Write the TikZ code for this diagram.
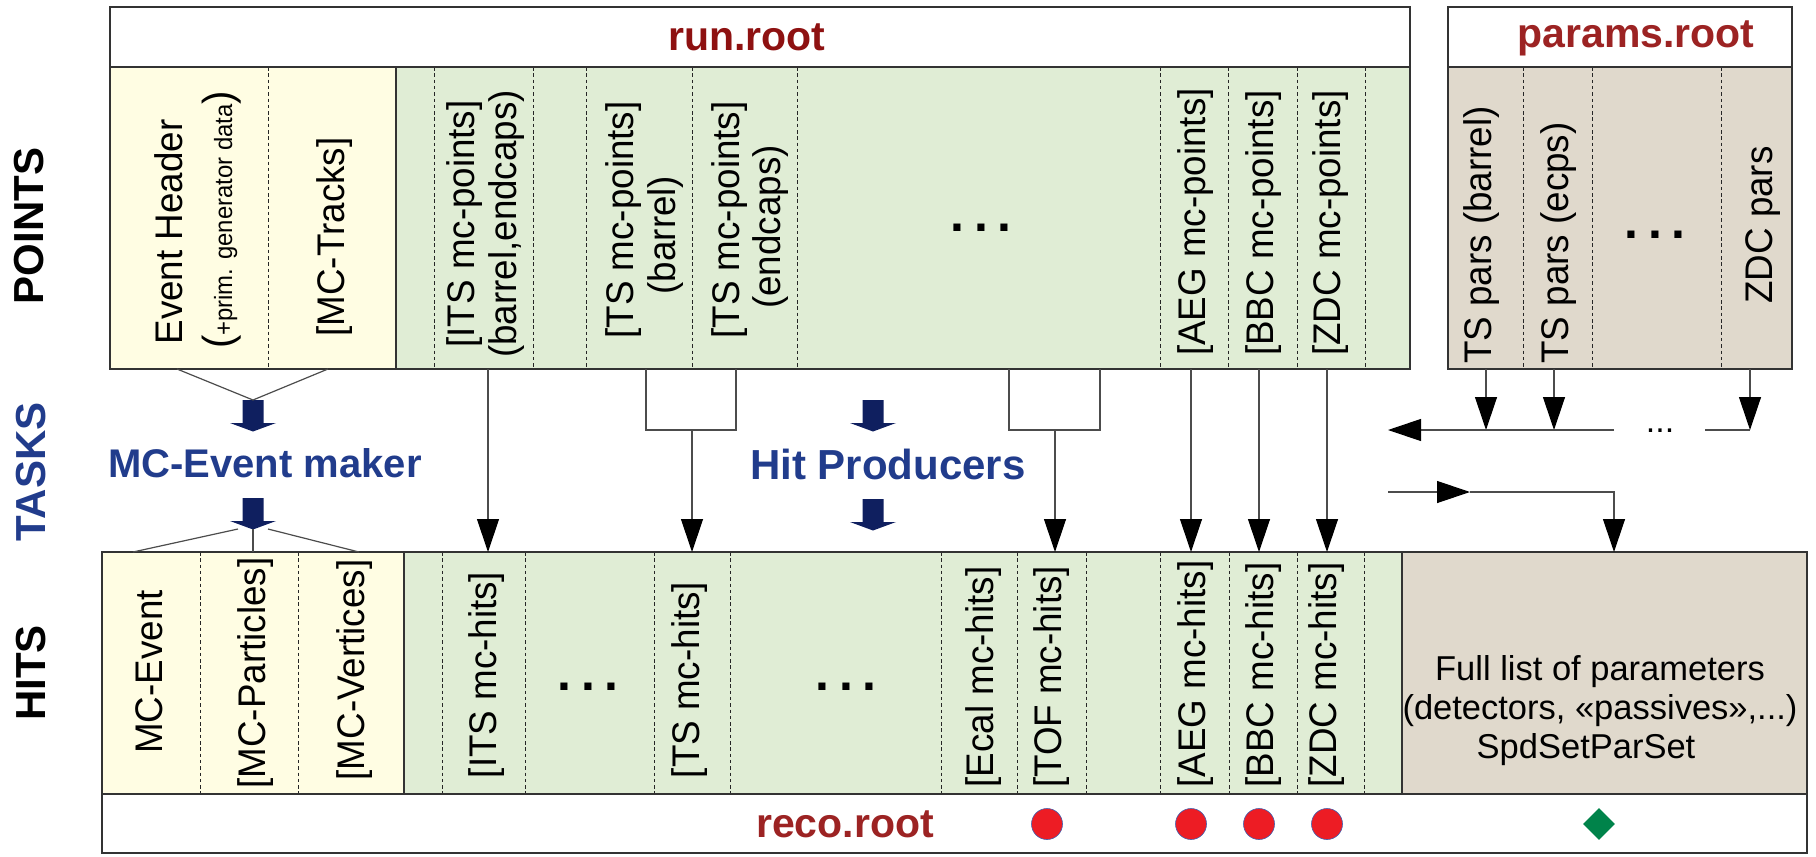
\documentclass[tikz,border=0pt]{standalone}
\usepackage{fontspec}
\setmainfont{Liberation Sans}
\usetikzlibrary{arrows.meta,shapes.geometric}
\definecolor{yel}{HTML}{FFFDE3}
\definecolor{grn}{HTML}{E0EDD5}
\definecolor{parbg}{HTML}{E0D9CC}
\definecolor{rootred}{HTML}{8E1111}
\definecolor{rootredb}{HTML}{9C2323}
\definecolor{taskblue}{HTML}{213C8C}
\definecolor{navyc}{HTML}{0F1F5F}
\definecolor{dotred}{HTML}{ED1C24}
\definecolor{dotblue}{HTML}{4060B0}
\definecolor{diagreen}{HTML}{00834A}
\newcommand{\vtx}[1]{\scalebox{0.955}[1]{#1}}
\tikzset{navyarr/.pic={\fill[navyc] (-10.5,0) -- (10.5,0) -- (10.5,23) -- (23,23) -- (0,31.5) -- (-23,23) -- (-10.5,23) -- cycle;}}
\begin{document}
\begin{tikzpicture}[x=1pt,y=-1pt,
  frame/.style={draw=black!80, line width=1.4pt},
  sepl/.style={draw=black!85, line width=0.9pt, dash pattern=on 3.5pt off 2.8pt},
  vt/.style={rotate=90, anchor=base, inner sep=0pt, font=\fontsize{38.5}{42}\selectfont},
  side/.style={rotate=90, anchor=base, inner sep=0pt, font=\fontsize{42}{46}\selectfont\bfseries},
  rootname/.style={inner sep=0pt, font=\fontsize{41}{46}\selectfont\bfseries},
  taskname/.style={inner sep=0pt, text=taskblue, font=\fontsize{40}{46}\selectfont\bfseries},
  conn/.style={draw=black!70, line width=1.2pt},
  arr/.style={conn, -{Triangle[length=33pt,width=22pt,color=black]}},
  dots/.style={inner sep=0pt, font=\fontsize{50}{50}\selectfont\bfseries},
  reddot/.style={circle, fill=dotred, draw=dotblue, line width=0.6pt, minimum size=31pt, inner sep=0pt},
]
\useasboundingbox (0,0) rectangle (1816,857);

% ---------- run.root ----------
\fill[white] (110,7) rectangle (1410,67);
\fill[yel] (110,67) rectangle (396,369);
\fill[grn] (396,67) rectangle (1410,369);
\foreach \x in {268,434,533,586,692,797,1160,1228,1297,1365} \draw[sepl] (\x,67) -- (\x,369);
\draw[frame] (396,67) -- (396,369);
\draw[frame] (110,67) -- (1410,67);
\draw[frame] (110,7) rectangle (1410,369);
\node[rootname, text=rootred] (run) at (747,37) {run.root};

% ---------- params.root ----------
\fill[white] (1448,7) rectangle (1792,67);
\fill[parbg] (1448,67) rectangle (1792,369);
\foreach \x in {1523,1592,1721} \draw[sepl] (\x,67) -- (\x,369);
\draw[frame] (1448,67) -- (1792,67);
\draw[frame] (1448,7) rectangle (1792,369);
\node[rootname, text=rootredb] (params) at (1636,38) {params.root};

% ---------- hits / reco.root ----------
\fill[yel] (102,552) rectangle (404,794);
\fill[grn] (404,552) rectangle (1402,794);
\fill[parbg] (1402,552) rectangle (1807,794);
\fill[white] (102,794) rectangle (1807,853);
\foreach \x in {200,298.5,442,525,654,730,941,1017,1086,1160,1229,1297,1364} \draw[sepl] (\x,552) -- (\x,794);
\draw[frame] (404,552) -- (404,794);
\draw[frame] (1402,552) -- (1402,794);
\draw[frame] (102,794) -- (1807,794);
\draw[frame] (102,552) rectangle (1807,853);
\node[rootname, text=rootredb] (reco) at (845,824) {reco.root};

% ---------- side labels ----------
\node[side] (lpoints) at (43,226) {POINTS};
\node[side, text=taskblue] (ltasks) at (45,472) {TASKS};
\node[side] (lhits) at (45,673) {HITS};

% ---------- points texts ----------
\node[vt] (evh) at (182,232) {\vtx{Event Header}};
\node[vt] (evp) at (232,220) {\vtx{{\fontsize{42}{42}\selectfont(}{\fontsize{25}{25}\selectfont +prim. generator data}{\fontsize{42}{42}\selectfont)}}};
\node[vt] (mct) at (344,237) {\vtx{[MC-Tracks]}};
\node[vt] (its1) at (474,224) {\vtx{[ITS mc-points]}};
\node[vt] (its2) at (516,224) {\vtx{(barrel,endcaps)}};
\node[vt] (tsb1) at (633,220) {\vtx{[TS mc-points]}};
\node[vt] (tsb2) at (675,235) {\vtx{(barrel)}};
\node[vt] (tse1) at (739,220) {\vtx{[TS mc-points]}};
\node[vt] (tse2) at (780,227) {\vtx{(endcaps)}};
\node[dots] (pdots) at (981,228) {.\hspace{10pt}.\hspace{10pt}.};
\node[vt] (aegp) at (1205,222) {\vtx{[AEG mc-points]}};
\node[vt] (bbcp) at (1273,223) {\vtx{[BBC mc-points]}};
\node[vt] (zdcp) at (1340,223) {\vtx{[ZDC mc-points]}};
\node[vt] (tspb) at (1491,235) {\vtx{TS pars (barrel)}};
\node[vt] (tspe) at (1568,243) {\vtx{TS pars (ecps)}};
\node[dots] (pardots) at (1655,235) {.\hspace{10pt}.\hspace{10pt}.};
\node[vt] (zdcpar) at (1772,225) {\vtx{ZDC pars}};

% ---------- hits texts ----------
\node[vt] (mcev) at (162,672) {\vtx{MC-Event}};
\node[vt] (mcpa) at (265,673) {\vtx{[MC-Particles]}};
\node[vt] (mcve) at (364,670) {\vtx{[MC-Vertices]}};
\node[vt] (itsh) at (496,675) {\vtx{[ITS mc-hits]}};
\node[dots] (hdots1) at (588,687) {.\hspace{10pt}.\hspace{10pt}.};
\node[vt] (tsh) at (699,680) {\vtx{[TS mc-hits]}};
\node[dots] (hdots2) at (846,687) {.\hspace{10pt}.\hspace{10pt}.};
\node[vt] (ecal) at (993,677) {\vtx{[Ecal mc-hits]}};
\node[vt] (tofh) at (1061,677) {\vtx{[TOF mc-hits]}};
\node[vt] (aegh) at (1205,674) {\vtx{[AEG mc-hits]}};
\node[vt] (bbch) at (1273,675) {\vtx{[BBC mc-hits]}};
\node[vt] (zdch) at (1336,675) {\vtx{[ZDC mc-hits]}};
\node[font=\fontsize{34.5}{39}\selectfont, align=center, inner sep=0pt] (full) at (1600,711) {Full list of parameters\\(detectors, «passives»,...)\\SpdSetParSet\hspace*{28pt}};

% ---------- tasks ----------
\node[taskname] (mcem) at (265,463) {MC-Event maker};
\node[taskname, font=\fontsize{42}{46}\selectfont\bfseries] (hitp) at (888,464) {Hit Producers};
\pic at (253,400) {navyarr};
\pic at (253,498) {navyarr};
\pic at (873,400) {navyarr};
\pic at (873,499) {navyarr};

% ---------- connectors ----------
\coordinate (evhB) at (177,369);
\coordinate (mctB) at (328,369);
\coordinate (mcIn) at (253,400);
\draw[conn] (evhB) -- (mcIn) -- (mctB);
\coordinate (mcOutL) at (238,529);
\coordinate (mcOut) at (253,529);
\coordinate (mcOutR) at (268,529);
\coordinate (mceT) at (133,552);
\coordinate (mcpT) at (253,552);
\coordinate (mcvT) at (359,552);
\draw[conn] (mcOutL) -- (mceT);
\draw[conn] (mcOut) -- (mcpT);
\draw[conn] (mcOutR) -- (mcvT);

\coordinate (itsB) at (488,369); \coordinate (itsT) at (488,552);
\draw[arr] (itsB) -- (itsT);
\coordinate (tsL) at (646,369); \coordinate (tsR) at (736,369);
\coordinate (tsM) at (692,430); \coordinate (tsT) at (692,552);
\draw[conn] (tsL) |- (tsM) -| (tsR);
\draw[arr] (tsM) -- (tsT);
\coordinate (tofL) at (1009,369); \coordinate (tofR) at (1100,369);
\coordinate (tofM) at (1055,430); \coordinate (tofT) at (1055,552);
\draw[conn] (tofL) |- (tofM) -| (tofR);
\draw[arr] (tofM) -- (tofT);
\coordinate (aegB) at (1191,369); \coordinate (aegT) at (1191,552);
\coordinate (bbcB) at (1259,369); \coordinate (bbcT) at (1259,552);
\coordinate (zdcB) at (1327,369); \coordinate (zdcT) at (1327,552);
\draw[arr] (aegB) -- (aegT);
\draw[arr] (bbcB) -- (bbcT);
\draw[arr] (zdcB) -- (zdcT);

\coordinate (p1B) at (1486,369); \coordinate (p1T) at (1486,430);
\coordinate (p2B) at (1554,369); \coordinate (p2T) at (1554,430);
\coordinate (p3B) at (1750,369); \coordinate (p3T) at (1750,430);
\draw[arr] (p1B) -- (p1T);
\draw[arr] (p2B) -- (p2T);
\draw[arr] (p3B) -- (p3T);
\coordinate (busR) at (1614,430); \coordinate (busL) at (1388,430);
\coordinate (busR2) at (1705,430);
\draw[arr] (busR) -- (busL);
\draw[conn] (busR2) -- (p3T);
\node[inner sep=0pt, font=\fontsize{34}{34}\selectfont] (busdots) at (1660,431) {...};
\coordinate (inL) at (1388,492); \coordinate (inM) at (1470,492);
\coordinate (inC) at (1614,492); \coordinate (fullT) at (1614,552);
\draw[arr] (inL) -- (inM);
\draw[arr] (inM) -- (inC) -- (fullT);

% ---------- reco markers ----------
\node[reddot] (rtof) at (1047,824) {};
\node[reddot] (raeg) at (1191,824) {};
\node[reddot] (rbbc) at (1259,824) {};
\node[reddot] (rzdc) at (1327,824) {};
\node[diamond, fill=diagreen, minimum size=32pt, inner sep=0pt] (rpar) at (1599,824) {};
\end{tikzpicture}
\end{document}
